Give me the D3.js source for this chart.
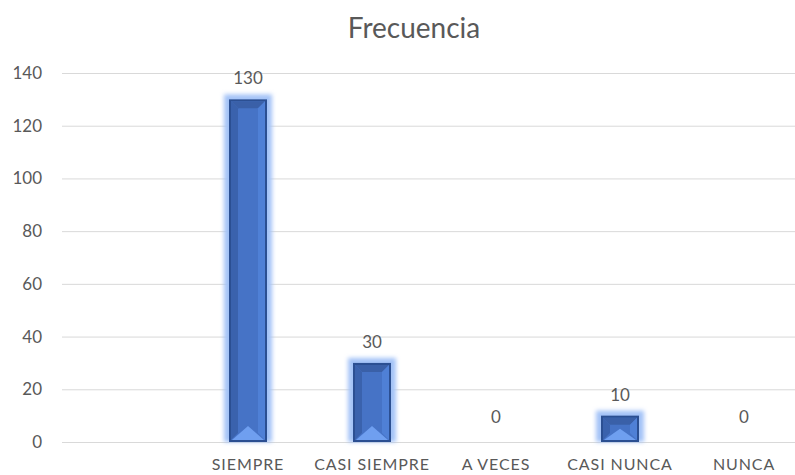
<!DOCTYPE html>
<html>
<head>
<meta charset="utf-8">
<script src="https://cdn.jsdelivr.net/npm/d3@7"></script>
<style>
  body { margin: 0; background: #fff; }
  text { font-family: Lato, "Open Sans", sans-serif; fill: #595959; }
</style>
</head>
<body>
<div class="chart"></div>
<script>
// chart data
var categories = ["", "SIEMPRE", "CASI SIEMPRE", "A VECES", "CASI NUNCA", "NUNCA"];
var values = [null, 130, 30, 0, 10, 0];
var yTicks = [0, 20, 40, 60, 80, 100, 120, 140];
var chartTitle = "Frecuencia";

var width = 795, height = 475;
var margin = { top: 73, left: 62, bottom: 33 };
var plotRight = 806;

var svg = d3.select(".chart").append("svg")
  .attr("width", width)
  .attr("height", height);

var defs = svg.append("defs");
var glow = defs.append("filter").attr("id", "glow")
  .attr("x", "-50%").attr("y", "-50%").attr("width", "200%").attr("height", "200%");
glow.append("feGaussianBlur").attr("stdDeviation", 2);

var xScale = d3.scaleBand().domain(categories).range([margin.left, plotRight]);
var yScale = d3.scaleLinear().domain([0, 140]).range([height - margin.bottom, margin.top]);

// gridlines
svg.append("g").selectAll("line")
  .data(yTicks)
  .enter().append("line")
  .attr("x1", margin.left).attr("x2", plotRight)
  .attr("y1", function (d) { return yScale(d) + 0.5; })
  .attr("y2", function (d) { return yScale(d) + 0.5; })
  .attr("stroke", "#d9d9d9").attr("stroke-width", 1);

// y axis labels
var yAxis = d3.axisLeft(yScale).tickValues(yTicks).tickSize(0).tickPadding(0);
var gy = svg.append("g").attr("transform", "translate(42,0)").call(yAxis);
gy.select(".domain").remove();
gy.selectAll("text").attr("font-size", "17px").style("font-family", "Lato, sans-serif").attr("fill", "#595959");

// x axis labels
var xAxis = d3.axisBottom(xScale).tickSize(0).tickPadding(0);
var gx = svg.append("g").attr("transform", "translate(0,459)").call(xAxis);
gx.select(".domain").remove();
gx.selectAll("text").attr("font-size", "16px").style("font-family", "Lato, sans-serif")
  .attr("fill", "#595959").attr("letter-spacing", "0.9px");

// bars with bevel
var barW = 38;
var bars = svg.append("g");
categories.forEach(function (c, i) {
  var v = values[i];
  if (v === null) return;
  var cx = xScale(c) + xScale.bandwidth() / 2;
  var x0 = cx - barW / 2, x1 = cx + barW / 2;
  var y0 = yScale(v), y1 = yScale(0);
  var h = y1 - y0;

  if (h > 0) {
    bars.append("rect")
      .attr("x", x0 - 5).attr("y", y0 - 5)
      .attr("width", barW + 10).attr("height", h + 5)
      .attr("fill", "#a3c2f7").attr("filter", "url(#glow)");

    bars.append("rect")
      .attr("x", x0).attr("y", y0).attr("width", barW).attr("height", h)
      .attr("fill", "#2b4f92");

    var a = x0 + 2, b = x1 - 2, t = y0 + 2, u = y1 - 2;
    var d = Math.min(7, (u - t) / 2);
    var poly = function (pts, fill) {
      bars.append("polygon")
        .attr("points", pts.map(function (p) { return p.join(","); }).join(" "))
        .attr("fill", fill);
    };
    poly([[a, t], [b, t], [b, u], [a, u]], "#4673c6");
    poly([[a, t], [b, t], [b - d, t + d], [a + d, t + d]], "#3a60a8");
    poly([[a, t], [a + d, t + d], [a + d, u - d], [a, u]], "#3a62ad");
    poly([[b, t], [b, u], [b - d, u - d], [b - d, t + d]], "#4f80d6");
    var tb = Math.min(14, (u - t) / 2);
    poly([[a + 1, u], [b - 1, u], [cx, u - tb]], "#6f9ff0");
  }

  svg.append("text")
    .attr("x", cx).attr("y", y0 - (h > 0 ? 15 : 19))
    .attr("text-anchor", "middle")
    .attr("font-size", "17px")
    .attr("fill", "#404040")
    .text(v);
});

// title
svg.append("text")
  .attr("x", 414).attr("y", 38)
  .attr("text-anchor", "middle")
  .attr("font-size", "28px")
  .text(chartTitle);
</script>
</body>
</html>
